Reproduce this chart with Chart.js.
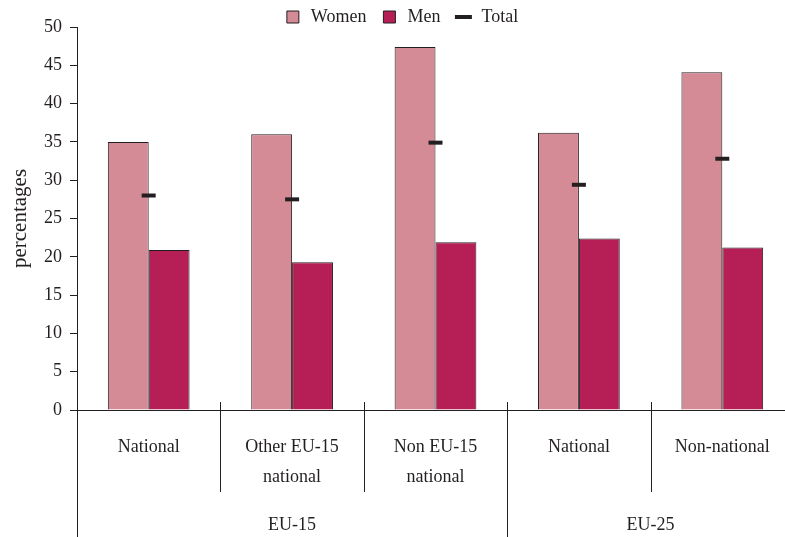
<!DOCTYPE html>
<html>
<head>
<meta charset="utf-8">
<script src="https://cdn.jsdelivr.net/npm/chart.js"></script>
<style>
  html, body { margin: 0; padding: 0; background: #fff; overflow: hidden; }
  #wrap { width: 805px; height: 537px; }
</style>
</head>
<body>
<div id="wrap"><canvas id="chart"></canvas></div>
<script>
const categories = [['National'], ['Other EU-15', 'national'], ['Non EU-15', 'national'], ['National'], ['Non-national']];
const groups = ['EU-15', 'EU-25'];
const groupSizes = [3, 2];
const women = [35.0, 36.0, 47.4, 36.2, 44.1];
const men = [20.9, 19.3, 21.9, 22.4, 21.2];
const total = [28.0, 27.5, 34.9, 29.4, 32.8];

const ink = '#231f20';
const womenColor = '#d48b96';
const menColor = '#b51f55';
const serif = 'Liberation Serif';

// separators under the x axis + the EU-15 / EU-25 group labels
const groupAxis = {
    id: 'groupAxis',
    afterDraw(chart) {
        const ctx = chart.ctx;
        const x = chart.scales.x;
        const half = (x.getPixelForValue(1) - x.getPixelForValue(0)) / 2;
        const top = x.top - 8;
        const groupStarts = [];
        let n = 0;
        groupSizes.forEach(s => { groupStarts.push(n); n += s; });

        ctx.save();
        ctx.strokeStyle = ink;
        ctx.lineWidth = 1;
        for (let i = 0; i < categories.length; i++) {
            const px = Math.round(x.getPixelForValue(i) - half) + 0.5;
            const bottom = groupStarts.includes(i) ? chart.height : 492;
            ctx.beginPath();
            ctx.moveTo(px, top);
            ctx.lineTo(px, bottom);
            ctx.stroke();
        }

        ctx.fillStyle = ink;
        ctx.font = '18px "' + serif + '"';
        ctx.textAlign = 'center';
        ctx.textBaseline = 'middle';
        groups.forEach((g, k) => {
            const a = x.getPixelForValue(groupStarts[k]) - half;
            const b = x.getPixelForValue(groupStarts[k] + groupSizes[k] - 1) + half;
            ctx.fillText(g, (a + b) / 2, 525);
        });
        ctx.restore();
    }
};

const ctx = document.getElementById('chart').getContext('2d');
new Chart(ctx, {
    data: {
        labels: categories,
        datasets: [
            {
                type: 'line',
                label: 'Total',
                data: total,
                showLine: false,
                pointStyle: 'line',
                pointRadius: 7,
                pointHoverRadius: 7,
                pointBorderWidth: 4,
                borderColor: ink,
                backgroundColor: ink,
                order: 0
            },
            {
                type: 'bar',
                label: 'Women',
                data: women,
                backgroundColor: womenColor,
                borderColor: ink,
                borderWidth: 1,
                pointStyle: 'rect',
                order: 1
            },
            {
                type: 'bar',
                label: 'Men',
                data: men,
                backgroundColor: menColor,
                borderColor: ink,
                borderWidth: 1,
                pointStyle: 'rect',
                order: 1
            }
        ]
    },
    options: {
        responsive: true,
        maintainAspectRatio: false,
        animation: false,
        categoryPercentage: 0.57,
        barPercentage: 1,
        layout: {
            padding: { top: -6, right: 3, left: 0, bottom: 0 }
        },
        plugins: {
            legend: {
                maxHeight: 33,
                labels: {
                    usePointStyle: true,
                    boxHeight: 12,
                    padding: 14,
                    color: ink,
                    font: { family: serif, size: 18 },
                    sort: (a, b) => ['Women', 'Men', 'Total'].indexOf(a.text) - ['Women', 'Men', 'Total'].indexOf(b.text)
                }
            },
            tooltip: { enabled: false }
        },
        scales: {
            x: {
                offset: true,
                grid: { display: false, drawTicks: false },
                border: { color: ink, width: 1 },
                ticks: {
                    color: ink,
                    padding: 22,
                    maxRotation: 0,
                    autoSkip: false,
                    font: { family: serif, size: 18, lineHeight: 1.67 }
                },
                afterFit: (scale) => { scale.height = 127; }
            },
            y: {
                min: 0,
                max: 50,
                ticks: {
                    stepSize: 5,
                    color: ink,
                    padding: 8,
                    font: { family: serif, size: 18 }
                },
                grid: { drawOnChartArea: false, tickLength: 7, color: ink },
                border: { color: ink, width: 1 },
                title: {
                    display: true,
                    text: 'percentages',
                    color: ink,
                    font: { family: serif, size: 21 },
                    padding: { top: 8, bottom: 0 }
                },
                afterFit: (scale) => { scale.width = 77; }
            }
        }
    },
    plugins: [groupAxis]
});
</script>
</body>
</html>
